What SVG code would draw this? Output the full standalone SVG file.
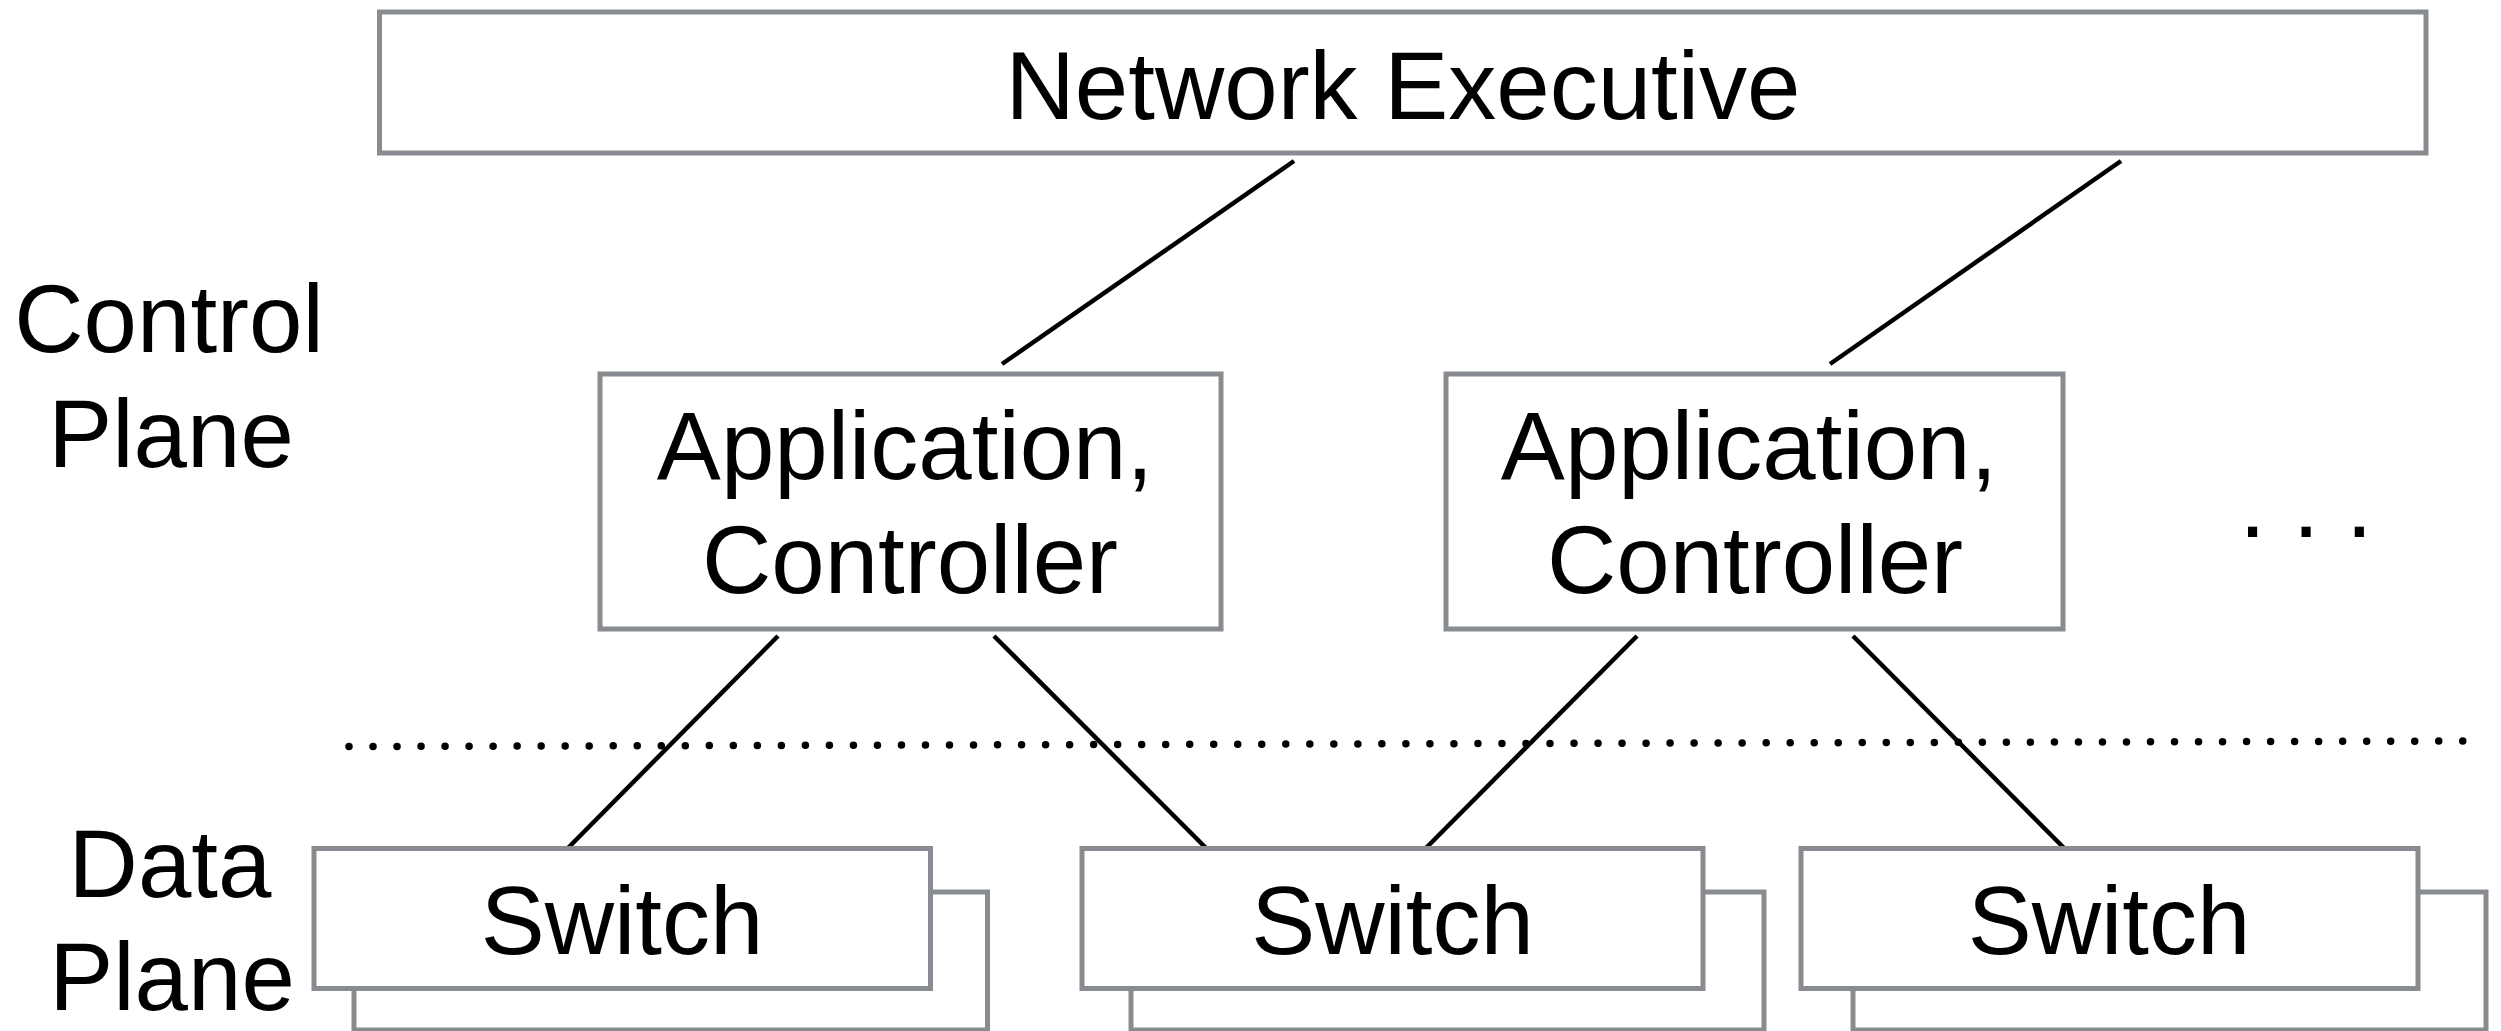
<svg xmlns="http://www.w3.org/2000/svg" width="2501" height="1031" viewBox="0 0 2501 1031">
  <style>
    .box { fill: #ffffff; stroke: #888b8f; stroke-width: 5; }
    .lbl { font-family: "Liberation Sans", Arial, Helvetica, sans-serif; font-size: 96px; fill: #000000; text-anchor: middle; }
    .link { stroke: #000000; stroke-width: 4.5; fill: none; }
    .divider { stroke: #000000; stroke-width: 7.5; stroke-linecap: round; stroke-dasharray: 0 24.02; fill: none; }
  </style>
  <rect width="2501" height="1031" fill="#ffffff"/>

  <!-- plane labels -->
  <g id="label-control-plane">
    <text class="lbl" x="169" y="352">Control</text>
    <text class="lbl" x="171" y="467">Plane</text>
  </g>
  <g id="label-data-plane">
    <text class="lbl" x="170" y="897">Data</text>
    <text class="lbl" x="172" y="1010">Plane</text>
  </g>

  <!-- boundary between control and data plane -->
  <line id="plane-divider" class="divider" x1="349" y1="746.5" x2="2463" y2="741"/>

  <!-- connectors -->
  <g id="connectors">
    <line class="link" x1="1294" y1="161" x2="1002" y2="364"/>
    <line class="link" x1="2121" y1="161" x2="1830" y2="364"/>
    <line class="link" x1="778" y1="636" x2="568" y2="848"/>
    <line class="link" x1="994" y1="636" x2="1206" y2="848"/>
    <line class="link" x1="1637" y1="636" x2="1426" y2="848"/>
    <line class="link" x1="1853" y1="636" x2="2064" y2="848"/>
  </g>

  <g id="network-executive">
    <rect class="box" x="379.5" y="12" width="2046.5" height="141"/>
    <text class="lbl" x="1403" y="119">Network Executive</text>
  </g>

  <g id="controller-1">
    <rect class="box" x="600" y="374" width="621" height="255"/>
    <text class="lbl" x="905" y="479">Application,</text>
    <text class="lbl" x="910" y="593">Controller</text>
  </g>

  <g id="controller-2">
    <rect class="box" x="1446" y="374" width="617" height="255"/>
    <text class="lbl" x="1749" y="479">Application,</text>
    <text class="lbl" x="1755" y="593">Controller</text>
  </g>

  <g id="ellipsis">
    <text class="lbl" x="2306" y="537">. . .</text>
  </g>

  <!-- switch stacks: a back card peeking out behind each front card -->
  <g id="switch-1">
    <rect class="box" x="354" y="892" width="633.5" height="138"/>
    <rect class="box" x="314" y="848.5" width="616.5" height="140"/>
    <text class="lbl" x="622" y="954">Switch</text>
  </g>

  <g id="switch-2">
    <rect class="box" x="1131" y="892" width="633" height="138"/>
    <rect class="box" x="1082" y="848.5" width="621" height="140"/>
    <text class="lbl" x="1392.5" y="954">Switch</text>
  </g>

  <g id="switch-3">
    <rect class="box" x="1853" y="892" width="633" height="138"/>
    <rect class="box" x="1801" y="848.5" width="617" height="140"/>
    <text class="lbl" x="2109" y="954">Switch</text>
  </g>
</svg>
